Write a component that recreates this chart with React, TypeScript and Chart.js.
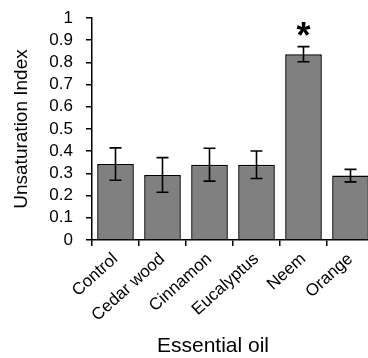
import React, { useEffect, useRef } from "react";
import { Chart, registerables } from "chart.js";

Chart.register(...registerables);

const categories = ["Control", "Cedar wood", "Cinnamon", "Eucalyptus", "Neem", "Orange"];
const values = [0.342, 0.293, 0.339, 0.339, 0.837, 0.29];
const errors = [0.073, 0.078, 0.074, 0.062, 0.034, 0.028];
const significant = [false, false, false, false, true, false];
const yTicks = [0, 0.1, 0.2, 0.3, 0.4, 0.5, 0.6, 0.7, 0.8, 0.9, 1];
const xTitle = "Essential oil";
const yTitle = "Unsaturation Index";

const FONT = "'Liberation Sans', Arial, sans-serif";

const extrasPlugin = {
  id: "extras",
  afterDatasetsDraw(chart: any) {
    const ctx = chart.ctx;
    const x = chart.scales.x;
    const y = chart.scales.y;
    ctx.save();
    ctx.strokeStyle = "#000";
    ctx.lineWidth = 1.6;
    values.forEach((v, i) => {
      const cx = x.getPixelForValue(i);
      const top = y.getPixelForValue(v + errors[i]);
      const bot = y.getPixelForValue(v - errors[i]);
      const cap = 6;
      ctx.beginPath();
      ctx.moveTo(cx, top);
      ctx.lineTo(cx, bot);
      ctx.moveTo(cx - cap, top);
      ctx.lineTo(cx + cap, top);
      ctx.moveTo(cx - cap, bot);
      ctx.lineTo(cx + cap, bot);
      ctx.stroke();
      if (significant[i]) {
        ctx.fillStyle = "#000";
        ctx.font = `bold 36px ${FONT}`;
        ctx.textAlign = "center";
        ctx.textBaseline = "alphabetic";
        ctx.fillText("*", cx, top + 1);
      }
    });
    ctx.fillStyle = "#000";
    ctx.font = `21px ${FONT}`;
    ctx.textAlign = "center";
    ctx.textBaseline = "alphabetic";
    ctx.fillText(xTitle, 213, 352);
    ctx.restore();
  },
};

export default function App() {
  const ref = useRef<HTMLCanvasElement | null>(null);
  useEffect(() => {
    if (!ref.current) return;
    const chart = new Chart(ref.current, {
      type: "bar",
      data: {
        labels: categories,
        datasets: [
          {
            data: values,
            backgroundColor: "#808080",
            borderColor: "#000",
            borderWidth: 1.5,
            barPercentage: 0.78,
            categoryPercentage: 1,
          },
        ],
      },
      options: {
        animation: false,
        responsive: false,
        devicePixelRatio: 1,
        layout: { padding: { top: 18, right: 2, left: 0, bottom: 0 } },
        plugins: { legend: { display: false }, tooltip: { enabled: false } },
        scales: {
          x: {
            grid: {
              drawOnChartArea: false,
              drawTicks: true,
              tickLength: 6,
              color: "#000",
              lineWidth: 1.5,
              offset: true,
            },
            border: { display: true, color: "#000", width: 1.5 },
            ticks: {
              color: "#000",
              font: { family: FONT, size: 17 },
              minRotation: 42,
              maxRotation: 42,
              padding: 3,
              autoSkip: false,
            },
            afterFit(scale: any) {
              scale.height = 118;
            },
          },
          y: {
            min: 0,
            max: 1,
            afterBuildTicks(scale: any) {
              scale.ticks = yTicks.map((v) => ({ value: v }));
            },
            grid: {
              drawOnChartArea: false,
              drawTicks: true,
              tickLength: 6,
              color: "#000",
              lineWidth: 1.5,
            },
            border: { display: true, color: "#000", width: 1.5 },
            ticks: {
              color: "#000",
              font: { family: FONT, size: 17 },
              padding: 13,
              autoSkip: false,
              callback: (v: any) => String(v),
            },
            title: {
              display: true,
              text: yTitle,
              color: "#000",
              font: { family: FONT, size: 19 },
              padding: { top: 10, bottom: 4 },
            },
            afterFit(scale: any) {
              scale.width = 92;
              scale.paddingTop = 0;
              scale.paddingBottom = 0;
            },
          },
        },
      },
      plugins: [extrasPlugin],
    });
    return () => chart.destroy();
  }, []);
  return (
    <div style={{ position: "fixed", left: 0, top: 0, width: 368, height: 358, overflow: "hidden", background: "#fff" }}>
      <canvas ref={ref} width={376} height={358} style={{ display: "block" }} />
    </div>
  );
}
